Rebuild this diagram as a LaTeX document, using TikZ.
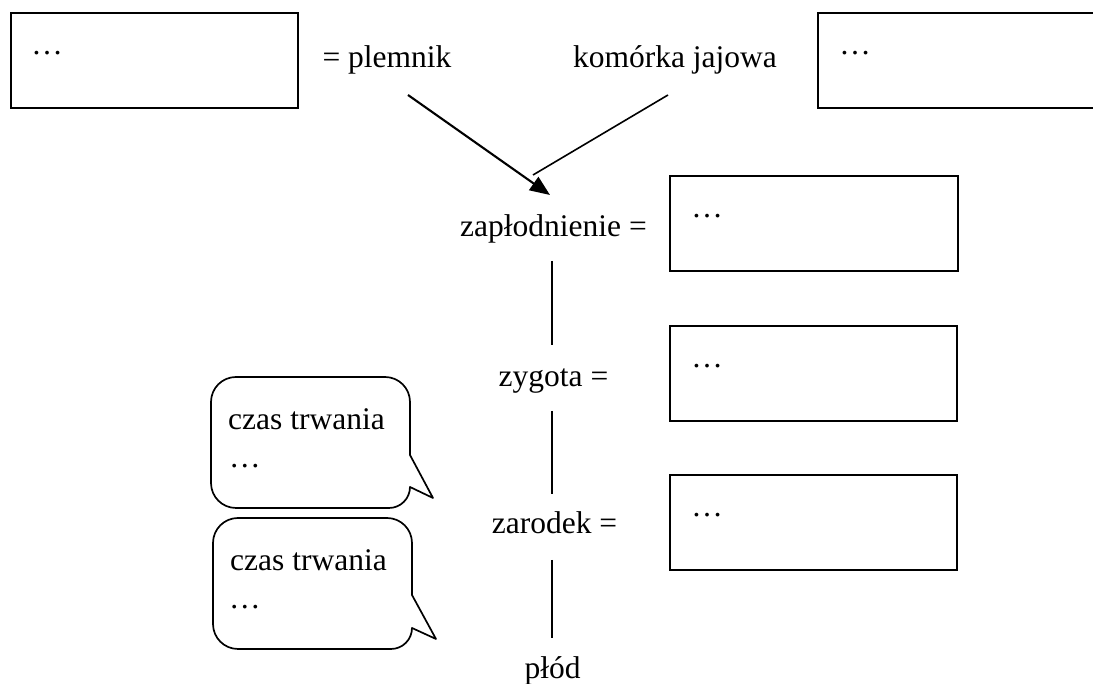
\documentclass[tikz,border=0pt]{standalone}
\usepackage{fontspec}
\setmainfont{Liberation Serif}
\usetikzlibrary{arrows.meta,calc}
\begin{document}
\begin{tikzpicture}[x=1pt,y=1pt,
  font=\fontsize{31.5}{38}\selectfont,
  box/.style={draw, line width=1.9pt, inner sep=0pt, minimum height=95pt},
  lbl/.style={anchor=base, inner sep=0pt},
  dots/.style={anchor=base west, inner sep=0pt},
  conn/.style={line width=1.6pt},
  arr/.style={line width=2.1pt},
  bubble/.style={draw, line width=1.7pt, line join=round}]
\useasboundingbox (0,0) rectangle (1093,684);

% boxes
\node[box, minimum width=287pt] (b1) at (154.5,623.5) {};
\node[box, minimum width=282pt] (b2) at (959,623.5) {};
\node[box, minimum width=288pt] (b3) at (814,460.5) {};
\node[box, minimum width=287pt] (b4) at (813.5,310.5) {};
\node[box, minimum width=287pt] (b5) at (813.5,161.5) {};

\node[dots] (d1) at ($(b1.north west)+(21,-42)$) {…};
\node[dots] (d2) at ($(b2.north west)+(22,-42)$) {…};
\node[dots] (d3) at ($(b3.north west)+(22,-42)$) {…};
\node[dots] (d4) at ($(b4.north west)+(22,-42)$) {…};
\node[dots] (d5) at ($(b5.north west)+(22,-42)$) {…};

% labels
\node[lbl] (plem) at (387,616) {= plemnik};
\node[lbl] (kom) at (675,616) {komórka jajowa};
\node[lbl] (zap) at (553.5,447) {zapłodnienie =};
\node[lbl] (zyg) at (553.5,297) {zygota =};
\node[lbl] (zar) at (554.5,150) {zarodek =};
\node[lbl] (plod) at (552.5,5) {płód};

% connector end points
\coordinate (pA) at (408,589);
\coordinate (pB) at (550,489);
\coordinate (kA) at (668,589);
\coordinate (kB) at (533,509);
\coordinate (v1a) at (552,423);
\coordinate (v1b) at (552,339);
\coordinate (v2a) at (552,273);
\coordinate (v2b) at (552,190);
\coordinate (v3a) at (552,124);
\coordinate (v3b) at (552,46);

\draw[arr, -{Triangle[length=20pt,width=16pt]}] (pA) -- (pB);
\draw[conn] (kA) -- (kB);
\draw[conn] (v1a) -- (v1b);
\draw[conn] (v2a) -- (v2b);
\draw[conn] (v3a) -- (v3b);

% speech bubbles
\draw[bubble] (236,307) -- (385,307) arc[start angle=90,end angle=0,radius=25]
  -- (410,229) -- (433,186) -- (410,197) arc[start angle=0,end angle=-90,radius=21]
  -- (236,176) arc[start angle=270,end angle=180,radius=25]
  -- (211,282) arc[start angle=180,end angle=90,radius=25] -- cycle;
\draw[bubble] (238,166) -- (387,166) arc[start angle=90,end angle=0,radius=25]
  -- (412,89) -- (436,45) -- (412,56) arc[start angle=0,end angle=-90,radius=21]
  -- (238,35) arc[start angle=270,end angle=180,radius=25]
  -- (213,141) arc[start angle=180,end angle=90,radius=25] -- cycle;

\node[dots] (c1) at (228,254) {czas trwania};
\node[dots] (e1) at (229,216) {…};
\node[dots] (c2) at (230,113) {czas trwania};
\node[dots] (e2) at (229,75) {…};
\end{tikzpicture}
\end{document}
